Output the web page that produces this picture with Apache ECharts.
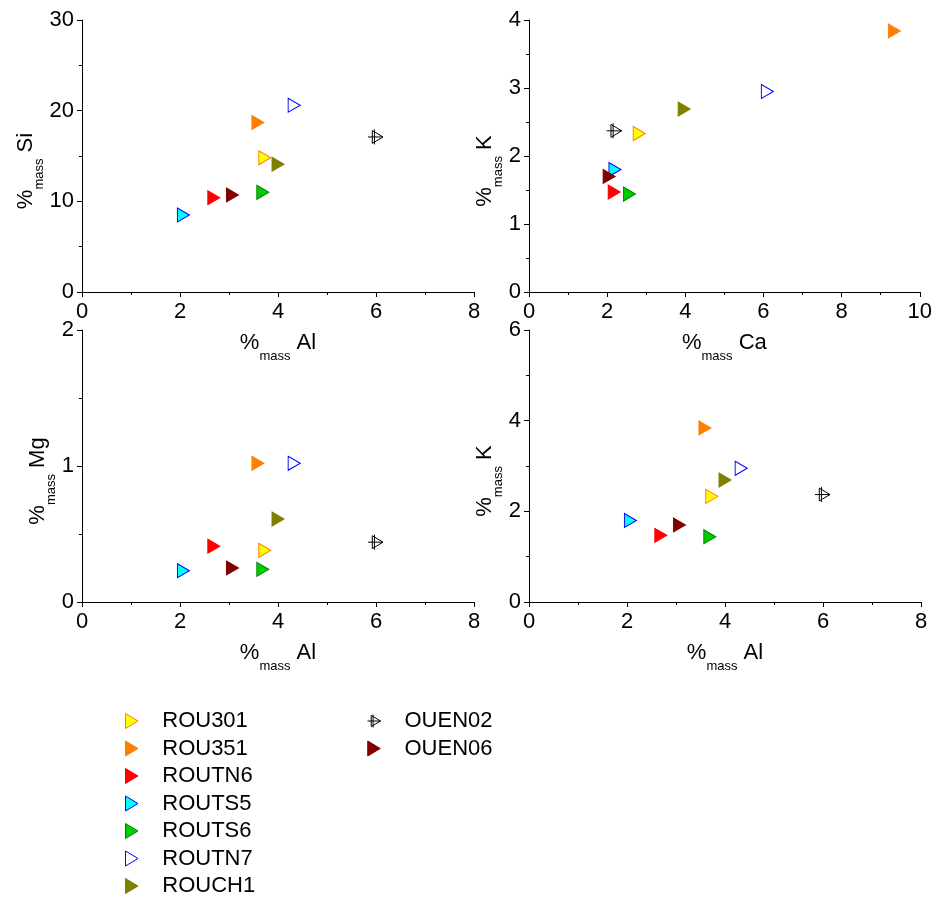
<!DOCTYPE html>
<html>
<head>
<meta charset="utf-8">
<script src="https://cdn.jsdelivr.net/npm/echarts@6/dist/echarts.min.js"></script>
<style>
html,body{margin:0;padding:0;background:#fff;}
#chart{width:935px;height:897px;}
</style>
</head>
<body>
<div id="chart"></div>
<script>
// ---- data ----
const samples = ['ROU301', 'ROU351', 'ROUTN6', 'ROUTS5', 'ROUTS6', 'ROUTN7', 'ROUCH1', 'OUEN02', 'OUEN06'];
const al = [3.73, 3.59, 2.69, 2.07, 3.69, 4.33, 4.00, 5.99, 3.07];
const si = [14.8, 18.7, 10.4, 8.5, 11.0, 20.6, 14.1, 17.1, 10.7];
const mg = [0.38, 1.02, 0.41, 0.23, 0.24, 1.02, 0.61, 0.44, 0.25];
const kk = [2.33, 3.84, 1.47, 1.80, 1.44, 2.95, 2.69, 2.37, 1.70];
const ca = [2.82, 9.35, 2.18, 2.20, 2.57, 6.10, 3.97, 2.18, 2.05];
const legendCol1 = ['ROU301', 'ROU351', 'ROUTN6', 'ROUTS5', 'ROUTS6', 'ROUTN7', 'ROUCH1'];
const legendCol2 = ['OUEN02', 'OUEN06'];

// ---- styles ----
const fills   = ['#FFFF00', '#FF8000', '#FF0000', '#00FFFF', '#00CC00', '#FFFFFF', '#808000', 'rgba(0,0,0,0)', '#800000'];
const strokes = ['#FF8000', '#FF8000', '#FF0000', '#0000FF', '#008000', '#0000FF', '#808000', '#000000', '#800000'];
const TRI = 'path://M0,0L10,6L0,12Z';
const CROSS_TRI = 'path://M4,1L14,7L4,13Z M0,7L14,7 M6,0L6,14';
const FONT = '"Liberation Sans", Arial, sans-serif';

const panels = [
  {x: al, y: si, grid: {left: 82, top: 20, width: 392, height: 272}, xr: [0, 8, 2], yr: [0, 30, 10], xn: 'Al', yn: 'Si', yGap: 41},
  {x: ca, y: kk, grid: {left: 529, top: 20, width: 392, height: 272}, xr: [0, 10, 2], yr: [0, 4, 1], xn: 'Ca', yn: 'K', yGap: 26},
  {x: al, y: mg, grid: {left: 82, top: 330, width: 392, height: 272}, xr: [0, 8, 2], yr: [0, 2, 1], xn: 'Al', yn: 'Mg', yGap: 27},
  {x: al, y: kk, grid: {left: 529, top: 330, width: 392, height: 272}, xr: [0, 8, 2], yr: [0, 6, 2], xn: 'Al', yn: 'K', yGap: 26}
];

function richFor(isY) {
  return {
    a: {fontSize: 22, lineHeight: 22, fontFamily: FONT, color: '#000'},
    b: {fontSize: 13, lineHeight: 13, fontFamily: FONT, color: '#000', padding: [26, 0, 0, 0]},
    c: {fontSize: 22, lineHeight: 22, fontFamily: FONT, color: '#000', padding: [0, isY ? 30 : 0, 0, 0]}
  };
}

function axis(r, nameTxt, gap, isY) {
  return {
    type: 'value', min: r[0], max: r[1], interval: r[2],
    name: '{a|%}{b|mass}{c| ' + nameTxt + '}',
    nameLocation: 'middle', nameGap: gap,
    nameTextStyle: {rich: richFor(isY)},
    axisLine: {show: true, onZero: false, lineStyle: {color: '#000', width: 1}},
    axisTick: {show: true, inside: false, length: 5, lineStyle: {color: '#000', width: 1}},
    minorTick: {show: true, splitNumber: 2, length: 3, lineStyle: {color: '#000', width: 1}},
    axisLabel: {color: '#000', fontSize: 22, fontFamily: FONT, margin: isY ? 8 : 9},
    splitLine: {show: false}
  };
}

const grids = [], xAxes = [], yAxes = [], series = [];
panels.forEach((p, pi) => {
  grids.push(Object.assign({containLabel: false}, p.grid));
  xAxes.push(Object.assign({gridIndex: pi}, axis(p.xr, p.xn, 27, false)));
  yAxes.push(Object.assign({gridIndex: pi}, axis(p.yr, p.yn, p.yGap, true)));
  samples.forEach((s, i) => {
    const isCross = s === 'OUEN02';
    series.push({
      type: 'scatter', name: s, xAxisIndex: pi, yAxisIndex: pi,
      data: [[p.x[i], p.y[i]]],
      symbol: isCross ? CROSS_TRI : TRI,
      symbolSize: isCross ? [15, 15] : [12, 14],
      itemStyle: {color: fills[i], borderColor: strokes[i], borderWidth: 1, opacity: 1},
      emphasis: {disabled: true}
    });
  });
});

function legend(names, left) {
  return {
    data: names.map(n => {
      const i = samples.indexOf(n);
      return {name: n, itemStyle: {color: fills[i], borderColor: strokes[i], borderWidth: 1}};
    }),
    orient: 'vertical', left: left, top: 710, height: 260, padding: 0,
    itemWidth: 13, itemHeight: 15, itemGap: 5.5,
    selectedMode: false,
    formatter: n => '{t|' + n + '}',
    textStyle: {rich: {t: {fontSize: 22, lineHeight: 20, fontFamily: FONT, color: '#000', padding: [0, 0, 0, 19]}}}
  };
}

const chart = echarts.init(document.getElementById('chart'), null, {renderer: 'canvas'});
chart.setOption({
  animation: false,
  backgroundColor: '#fff',
  textStyle: {fontFamily: FONT},
  grid: grids, xAxis: xAxes, yAxis: yAxes,
  legend: [legend(legendCol1, 125), legend(legendCol2, 367)],
  series: series
});
</script>
</body>
</html>
